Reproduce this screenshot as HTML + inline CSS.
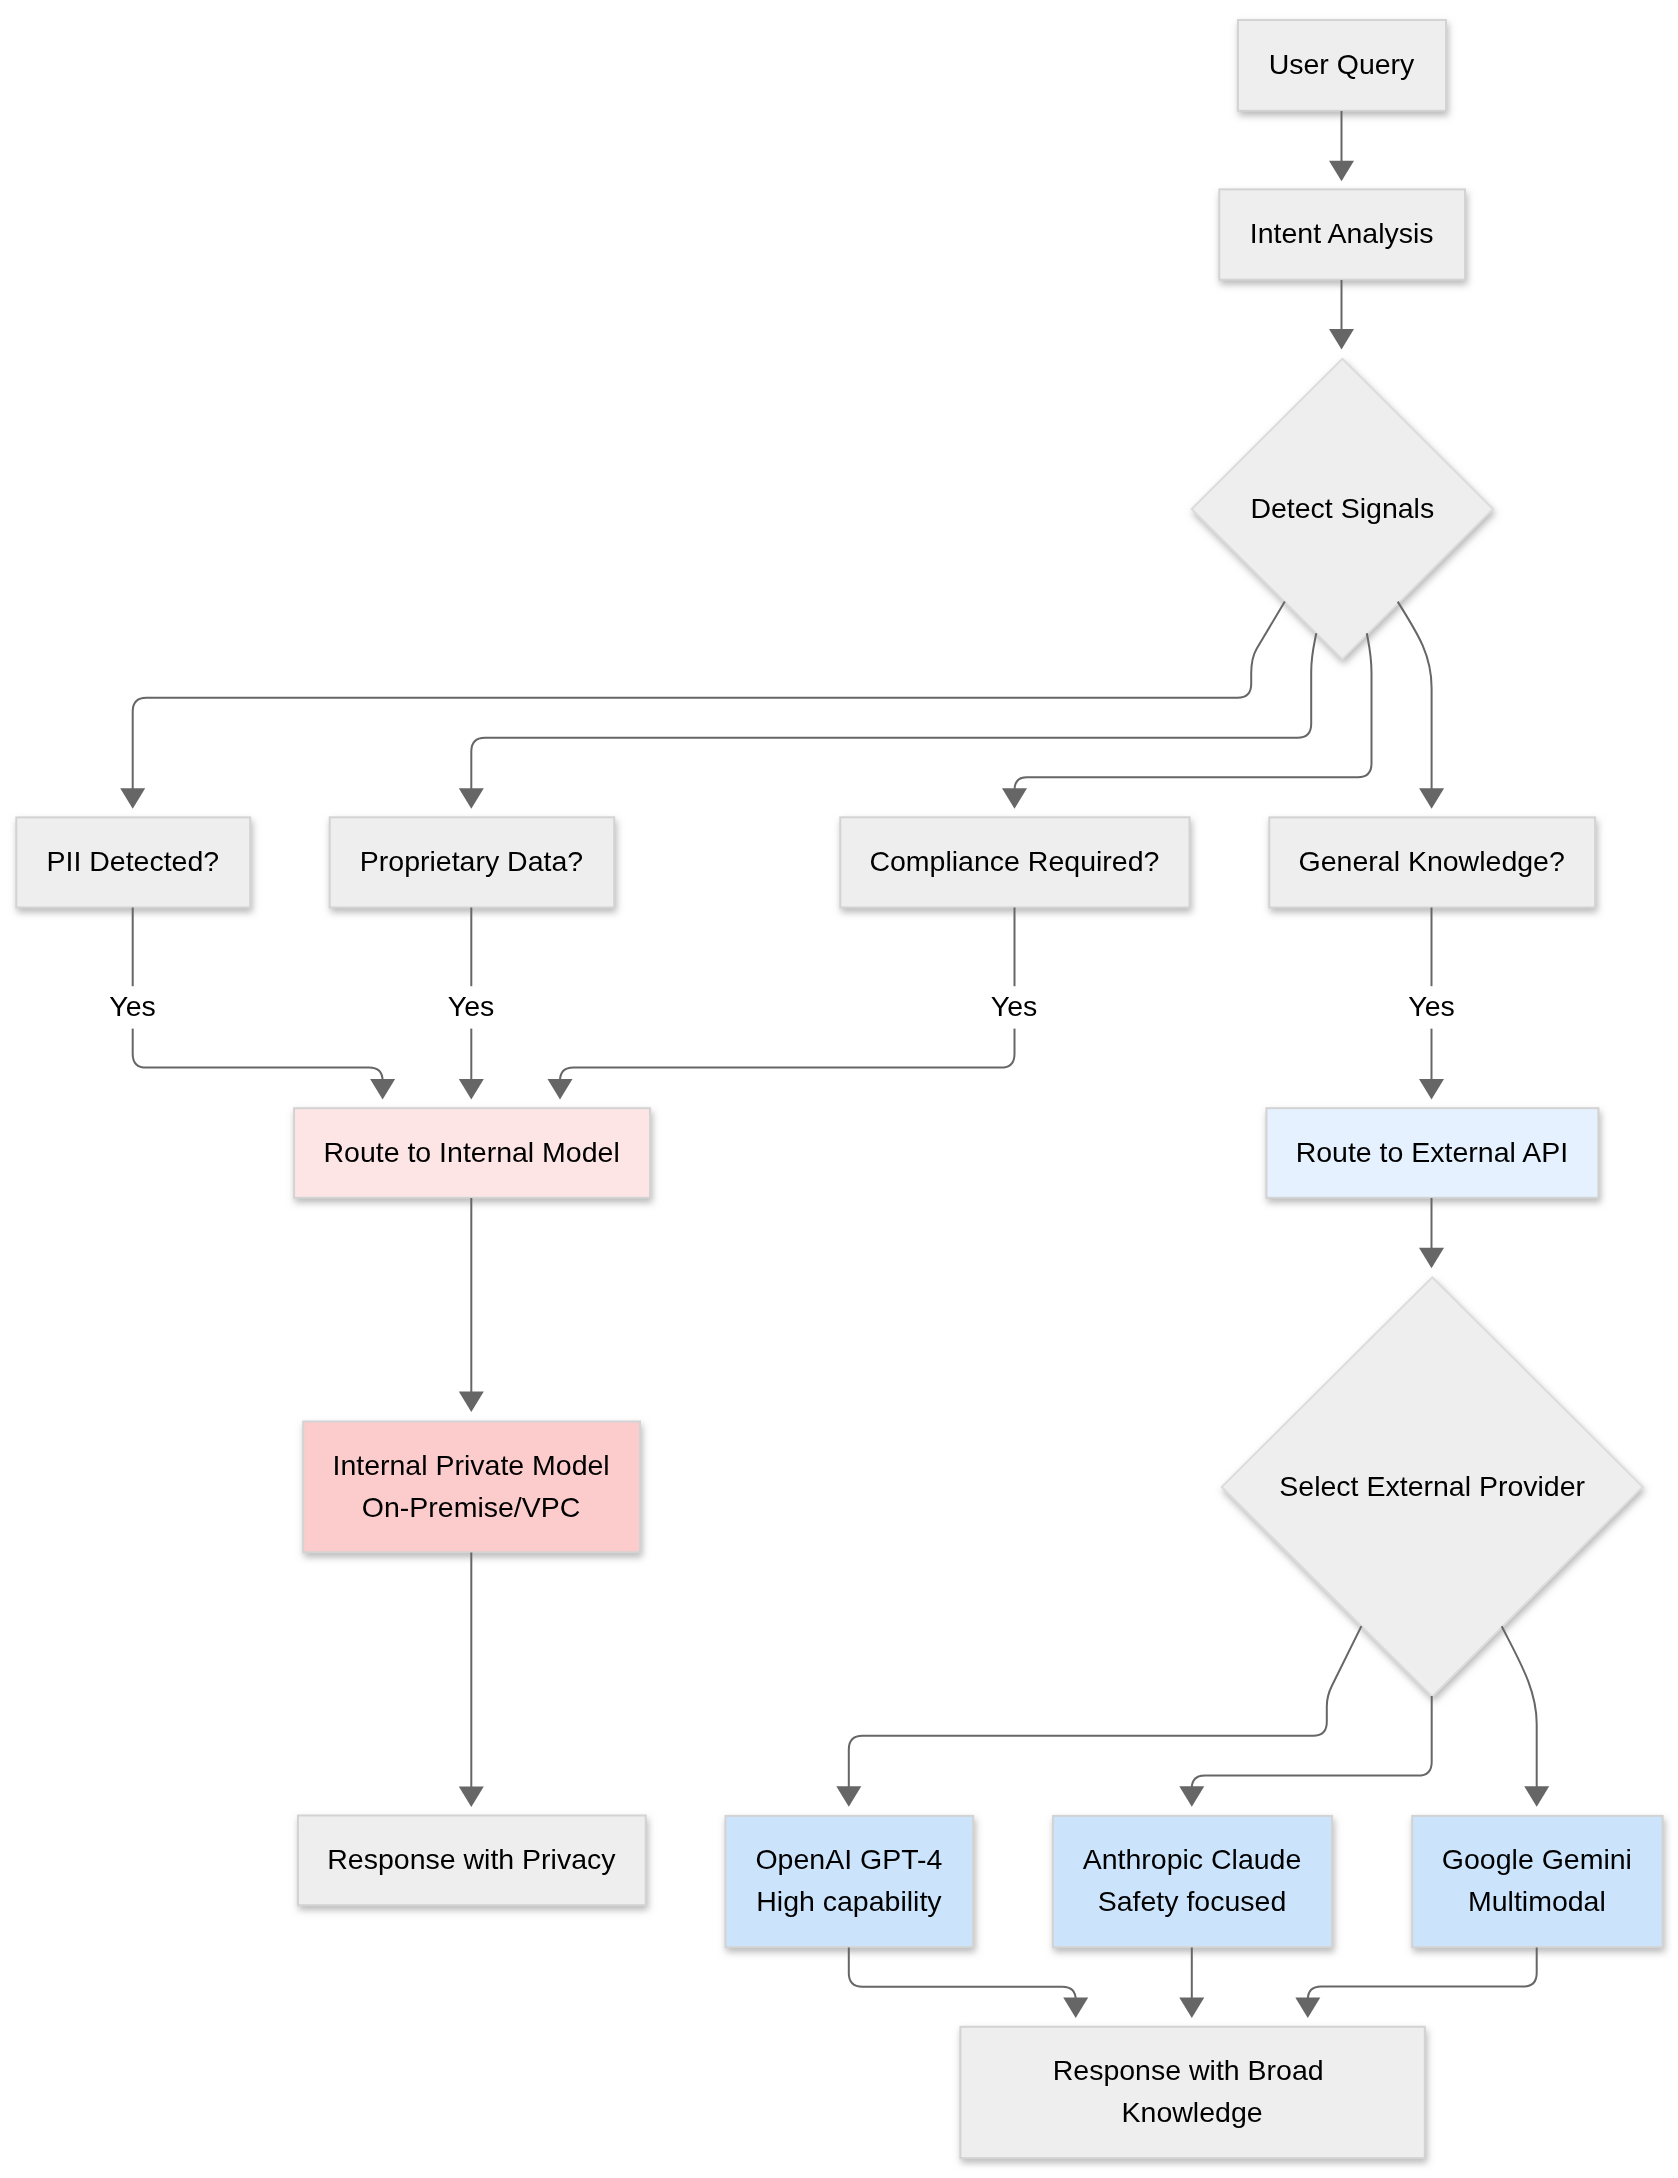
<!DOCTYPE html><html><head><meta charset="utf-8"><style>
html,body{margin:0;padding:0;background:#ffffff;}
svg{display:block;width:1678px;height:2178px;will-change:transform;}
text{font-family:"Liberation Sans",sans-serif;font-size:28.5px;fill:#000;}
</style></head><body>
<svg width="1678" height="2178" viewBox="0 0 1678 2178">
<defs><filter id="sh" x="-20%" y="-20%" width="140%" height="140%"><feDropShadow dx="1.5" dy="4" stdDeviation="3.5" flood-color="#b9b9b9" flood-opacity="1"/></filter><filter id="bl" x="0" y="0" width="100%" height="100%" filterUnits="userSpaceOnUse"><feGaussianBlur stdDeviation="0.55"/></filter></defs>
<rect width="100%" height="100%" fill="#ffffff"/><g>
<rect x="1238.0" y="20.0" width="208.0" height="90.8" fill="#eeeeee" stroke="#d3d3d3" stroke-width="2" filter="url(#sh)"/>
<text x="1341.5" y="73.8" text-anchor="middle">User Query</text>
<rect x="1219.3" y="189.4" width="245.7" height="90.3" fill="#eeeeee" stroke="#d3d3d3" stroke-width="2" filter="url(#sh)"/>
<text x="1341.7" y="243.2" text-anchor="middle">Intent Analysis</text>
<rect x="16.3" y="817.4" width="233.9" height="90.1" fill="#eeeeee" stroke="#d3d3d3" stroke-width="2" filter="url(#sh)"/>
<text x="132.8" y="871.2" text-anchor="middle">PII Detected?</text>
<rect x="329.7" y="817.3" width="284.5" height="90.2" fill="#eeeeee" stroke="#d3d3d3" stroke-width="2" filter="url(#sh)"/>
<text x="471.5" y="871.1" text-anchor="middle">Proprietary Data?</text>
<rect x="840.3" y="817.3" width="349.2" height="90.2" fill="#eeeeee" stroke="#d3d3d3" stroke-width="2" filter="url(#sh)"/>
<text x="1014.4" y="871.1" text-anchor="middle">Compliance Required?</text>
<rect x="1269.3" y="817.4" width="325.8" height="90.1" fill="#eeeeee" stroke="#d3d3d3" stroke-width="2" filter="url(#sh)"/>
<text x="1431.7" y="871.2" text-anchor="middle">General Knowledge?</text>
<rect x="294.1" y="1108.2" width="355.9" height="89.6" fill="#fde5e5" stroke="#d3d3d3" stroke-width="2" filter="url(#sh)"/>
<text x="471.6" y="1162.0" text-anchor="middle">Route to Internal Model</text>
<rect x="1266.4" y="1108.2" width="332.0" height="89.6" fill="#e5f1fe" stroke="#d3d3d3" stroke-width="2" filter="url(#sh)"/>
<text x="1431.9" y="1162.0" text-anchor="middle">Route to External API</text>
<rect x="303.2" y="1421.5" width="336.8" height="130.8" fill="#fccbcc" stroke="#d3d3d3" stroke-width="2" filter="url(#sh)"/>
<text x="471.1" y="1475.0" text-anchor="middle">Internal Private Model</text>
<text x="471.1" y="1516.5" text-anchor="middle">On-Premise/VPC</text>
<rect x="298.0" y="1815.5" width="347.7" height="89.7" fill="#eeeeee" stroke="#d3d3d3" stroke-width="2" filter="url(#sh)"/>
<text x="471.4" y="1869.3" text-anchor="middle">Response with Privacy</text>
<rect x="725.5" y="1815.9" width="247.7" height="131.3" fill="#cbe4fc" stroke="#d3d3d3" stroke-width="2" filter="url(#sh)"/>
<text x="848.9" y="1869.4" text-anchor="middle">OpenAI GPT-4</text>
<text x="848.9" y="1910.9" text-anchor="middle">High capability</text>
<rect x="1053.0" y="1815.9" width="279.0" height="131.3" fill="#cbe4fc" stroke="#d3d3d3" stroke-width="2" filter="url(#sh)"/>
<text x="1192.0" y="1869.4" text-anchor="middle">Anthropic Claude</text>
<text x="1192.0" y="1910.9" text-anchor="middle">Safety focused</text>
<rect x="1412.2" y="1815.9" width="250.4" height="131.3" fill="#cbe4fc" stroke="#d3d3d3" stroke-width="2" filter="url(#sh)"/>
<text x="1536.9" y="1869.4" text-anchor="middle">Google Gemini</text>
<text x="1536.9" y="1910.9" text-anchor="middle">Multimodal</text>
<rect x="960.4" y="2026.8" width="464.4" height="131.3" fill="#eeeeee" stroke="#d3d3d3" stroke-width="2" filter="url(#sh)"/>
<text x="1188.2" y="2080.3" text-anchor="middle">Response with Broad</text>
<text x="1192.1" y="2121.8" text-anchor="middle">Knowledge</text>
<polygon points="1342.3,358.8 1492.9,509.0 1342.3,659.2 1191.7,509.0" fill="#eeeeee" stroke="#dcdcdc" stroke-width="2" filter="url(#sh)"/>
<text x="1342.3" y="517.8" text-anchor="middle">Detect Signals</text>
<polygon points="1432.2,1277.3 1642.6,1486.9 1432.2,1696.5 1221.8,1486.9" fill="#eeeeee" stroke="#dcdcdc" stroke-width="2" filter="url(#sh)"/>
<text x="1432.2" y="1496.4" text-anchor="middle">Select External Provider</text>
<g fill="none" stroke="#666666" stroke-width="2">
<path d="M1341.5,111 L1341.5,162"/>
<path d="M1341.5,280 L1341.5,331"/>
<path d="M1284.8,601.6 L1256.8,648.4 Q1251.2,657.8 1251.2,673.4 L1251.2,684 Q1251.2,697.7 1237.5,697.7 L146.4,697.7 Q132.7,697.7 132.7,711.4 L132.7,790"/>
<path d="M1316.3,633.3 C1314,645 1311.2,655 1311.2,672 L1311.2,724 Q1311.2,737.7 1297.5,737.7 L485,737.7 Q471.3,737.7 471.3,751.4 L471.3,790"/>
<path d="M1366.8,633.3 C1369,645 1371.5,655 1371.5,673 L1371.5,763.6 Q1371.5,777.3 1357.8,777.3 L1027,777.3 Q1014.5,777.3 1014.5,790"/>
<path d="M1397.7,601.6 C1418,634 1431.6,655 1431.6,688 L1431.6,790"/>
<path d="M132.7,907.5 L132.7,1053.9 Q132.7,1067.6 146.4,1067.6 L369,1067.6 Q382.6,1067.6 382.6,1081"/>
<path d="M471.3,907.5 L471.3,1081"/>
<path d="M1014.5,907.5 L1014.5,1053.9 Q1014.5,1067.6 1000.8,1067.6 L573.4,1067.6 Q560,1067.6 560,1081"/>
<path d="M1431.5,907.5 L1431.5,1081"/>
<path d="M471.3,1198 L471.3,1393"/>
<path d="M471.3,1552.5 L471.3,1788"/>
<path d="M1431.5,1198 L1431.5,1250"/>
<path d="M1361.4,1626.1 L1331.9,1685.8 Q1326.8,1696.1 1326.8,1706.4 L1326.8,1722 Q1326.8,1735.7 1313.1,1735.7 L862.5,1735.7 Q848.8,1735.7 848.8,1749.4 L848.8,1788"/>
<path d="M1431.7,1696 L1431.7,1761.9 Q1431.7,1775.6 1418,1775.6 L1205.2,1775.6 Q1191.8,1775.6 1191.8,1788"/>
<path d="M1501.7,1626.3 C1520,1662 1536.7,1690 1536.7,1724 L1536.7,1788"/>
<path d="M848.8,1947.5 L848.8,1973 Q848.8,1986.7 862.5,1986.7 L1062.3,1986.7 Q1075.7,1986.7 1075.7,2000"/>
<path d="M1191.8,1947.5 L1191.8,2000"/>
<path d="M1536.7,1947.5 L1536.7,1973 Q1536.7,1986.6 1523,1986.6 L1321.2,1986.6 Q1307.8,1986.6 1307.8,2000"/>
</g>
<path d="M1329.00,160.70 L1354.00,160.70 L1341.50,181.20 Z" fill="#666666"/>
<path d="M1329.00,329.00 L1354.00,329.00 L1341.50,349.50 Z" fill="#666666"/>
<path d="M120.20,788.20 L145.20,788.20 L132.70,808.70 Z" fill="#666666"/>
<path d="M458.80,788.20 L483.80,788.20 L471.30,808.70 Z" fill="#666666"/>
<path d="M1002.00,788.20 L1027.00,788.20 L1014.50,808.70 Z" fill="#666666"/>
<path d="M1419.10,788.20 L1444.10,788.20 L1431.60,808.70 Z" fill="#666666"/>
<path d="M370.10,1078.90 L395.10,1078.90 L382.60,1099.40 Z" fill="#666666"/>
<path d="M458.80,1078.90 L483.80,1078.90 L471.30,1099.40 Z" fill="#666666"/>
<path d="M547.50,1078.90 L572.50,1078.90 L560.00,1099.40 Z" fill="#666666"/>
<path d="M1419.00,1078.90 L1444.00,1078.90 L1431.50,1099.40 Z" fill="#666666"/>
<path d="M458.80,1391.50 L483.80,1391.50 L471.30,1412.00 Z" fill="#666666"/>
<path d="M458.80,1786.50 L483.80,1786.50 L471.30,1807.00 Z" fill="#666666"/>
<path d="M1419.00,1247.70 L1444.00,1247.70 L1431.50,1268.20 Z" fill="#666666"/>
<path d="M836.30,1786.30 L861.30,1786.30 L848.80,1806.80 Z" fill="#666666"/>
<path d="M1179.30,1786.30 L1204.30,1786.30 L1191.80,1806.80 Z" fill="#666666"/>
<path d="M1524.20,1786.30 L1549.20,1786.30 L1536.70,1806.80 Z" fill="#666666"/>
<path d="M1063.20,1997.50 L1088.20,1997.50 L1075.70,2018.00 Z" fill="#666666"/>
<path d="M1179.30,1997.50 L1204.30,1997.50 L1191.80,2018.00 Z" fill="#666666"/>
<path d="M1295.30,1997.50 L1320.30,1997.50 L1307.80,2018.00 Z" fill="#666666"/>
<rect x="106.5" y="986.2" width="52" height="42.4" fill="#ffffff"/>
<text x="132.5" y="1015.7" text-anchor="middle">Yes</text>
<rect x="445.0" y="986.2" width="52" height="42.4" fill="#ffffff"/>
<text x="471.0" y="1015.7" text-anchor="middle">Yes</text>
<rect x="988.0" y="986.2" width="52" height="42.4" fill="#ffffff"/>
<text x="1014.0" y="1015.7" text-anchor="middle">Yes</text>
<rect x="1405.5" y="986.2" width="52" height="42.4" fill="#ffffff"/>
<text x="1431.5" y="1015.7" text-anchor="middle">Yes</text>
</g></svg></body></html>
